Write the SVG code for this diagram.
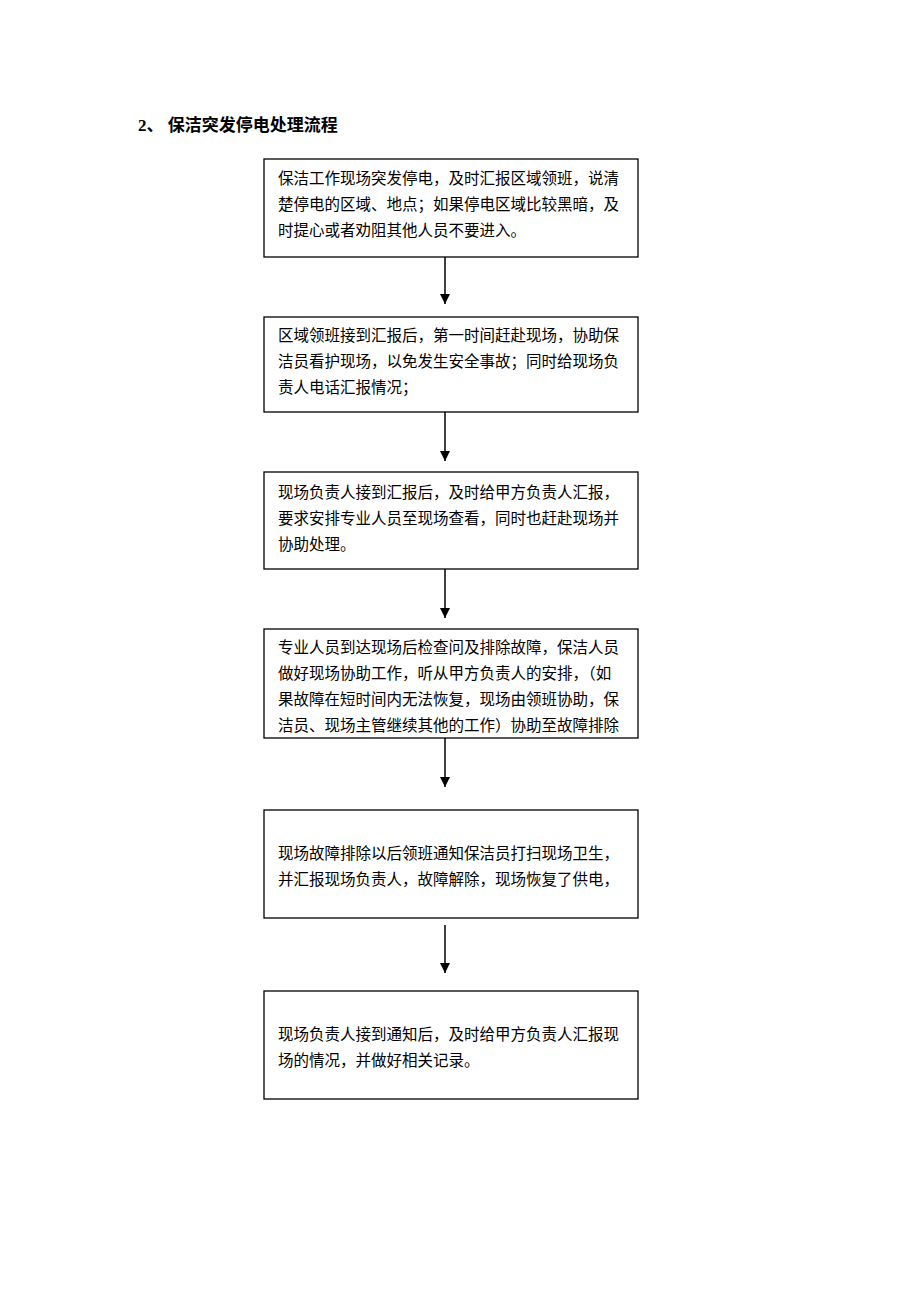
<svg xmlns="http://www.w3.org/2000/svg" width="920" height="1302" viewBox="0 0 920 1302">
<defs>
<style>
.b{fill:#fff;stroke:#000;stroke-width:1.3}
.t{font-family:"Liberation Serif","Noto Sans CJK SC",serif;font-size:15.5px;fill:#000}
.c line{stroke:#000;stroke-width:1.5}
</style>
<marker id="a" viewBox="0 0 10 10" refX="10" refY="5" markerWidth="7" markerHeight="7" orient="auto"><path d="M0,0L10,5L0,10z" fill="#000"/></marker>
</defs>
<rect width="920" height="1302" fill="#fff"/>
<text x="138" y="131" class="t" style="font-weight:bold;font-size:17px">2、 保洁突发停电处理流程</text>
<g id="n1"><rect class="b" x="264" y="159" width="374" height="98"/>
<text class="t" x="278" y="184">保洁工作现场突发停电，及时汇报区域领班，说清</text>
<text class="t" x="278" y="210">楚停电的区域、地点；如果停电区域比较黑暗，及</text>
<text class="t" x="278" y="236">时提心或者劝阻其他人员不要进入。</text></g>
<g id="n2"><rect class="b" x="264" y="317" width="374" height="95"/>
<text class="t" x="278" y="341">区域领班接到汇报后，第一时间赶赴现场，协助保</text>
<text class="t" x="278" y="367">洁员看护现场，以免发生安全事故；同时给现场负</text>
<text class="t" x="278" y="393">责人电话汇报情况；</text></g>
<g id="n3"><rect class="b" x="264" y="472" width="374" height="97"/>
<text class="t" x="278" y="498">现场负责人接到汇报后，及时给甲方负责人汇报，</text>
<text class="t" x="278" y="524">要求安排专业人员至现场查看，同时也赶赴现场并</text>
<text class="t" x="278" y="550">协助处理。</text></g>
<g id="n4"><rect class="b" x="264" y="629" width="374" height="109"/>
<text class="t" x="278" y="653">专业人员到达现场后检查问及排除故障，保洁人员</text>
<text class="t" x="278" y="679">做好现场协助工作，听从甲方负责人的安排，（如</text>
<text class="t" x="278" y="705">果故障在短时间内无法恢复，现场由领班协助，保</text>
<text class="t" x="278" y="731">洁员、现场主管继续其他的工作）协助至故障排除</text></g>
<g id="n5"><rect class="b" x="264" y="810" width="374" height="108"/>
<text class="t" x="278" y="859">现场故障排除以后领班通知保洁员打扫现场卫生，</text>
<text class="t" x="278" y="885">并汇报现场负责人，故障解除，现场恢复了供电，</text></g>
<g id="n6"><rect class="b" x="264" y="991" width="374" height="108"/>
<text class="t" x="278" y="1040">现场负责人接到通知后，及时给甲方负责人汇报现</text>
<text class="t" x="278" y="1066">场的情况，并做好相关记录。</text></g>
<g class="c">
<line x1="445" y1="257" x2="445" y2="304" marker-end="url(#a)"/>
<line x1="445" y1="412" x2="445" y2="461" marker-end="url(#a)"/>
<line x1="445" y1="569" x2="445" y2="618" marker-end="url(#a)"/>
<line x1="445" y1="738" x2="445" y2="787" marker-end="url(#a)"/>
<line x1="445" y1="925" x2="445" y2="973" marker-end="url(#a)"/>
</g>
</svg>
